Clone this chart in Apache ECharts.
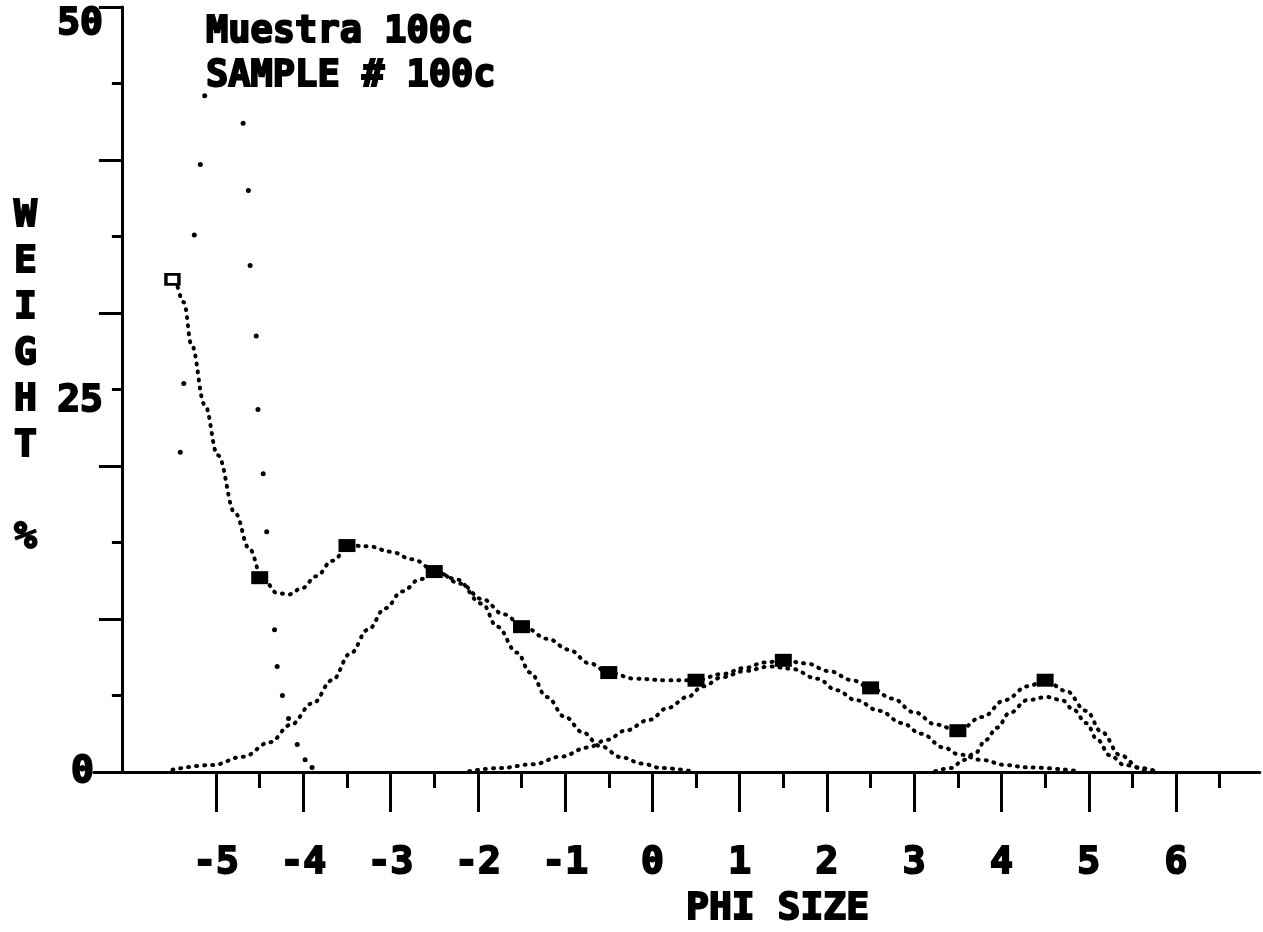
<!DOCTYPE html>
<html><head><meta charset="utf-8">
<script src="https://cdn.jsdelivr.net/npm/echarts@6/dist/echarts.min.js"></script>
<style>html,body{margin:0;padding:0;background:#fff}#c{width:1263px;height:932px}</style>
</head><body><div id="c"></div>
<script>
// ---- tick values ----
const xMajorTicks = [-5,-4,-3,-2,-1,0,1,2,3,4,5,6];
const xMinorTicks = [-4.5,-3.5,-2.5,-1.5,-0.5,0.5,1.5,2.5,3.5,4.5,5.5,6.5];
const yLabelValues = [0,25,50];

// ---- measured sample points (squares) ----
const samplePhi    = [-5.5,-4.5,-3.5,-2.5,-1.5,-0.5,0.5,1.5,2.5,3.5,4.5];
const sampleWeight = [32.2,12.7,14.8,13.1,9.5,6.5,6.0,7.3,5.5,2.7,6.0];

// ---- total fitted curve ----
const totalPhi    = [-5.46,-5.37,-5.28,-5.13,-4.98,-4.78,-4.62,-4.47,-4.3,-4.17,-4.02,-3.85,-3.67,-3.47,-3.25,-3.0,-2.75,-2.47,-2.2,-1.95,-1.7,-1.48,-1.2,-0.96,-0.72,-0.5,-0.2,0.15,0.5,0.8,1.06,1.28,1.5,1.76,2.02,2.29,2.5,2.75,3.0,3.25,3.5,3.78,4.04,4.3,4.5,4.74,4.97,5.15,5.36,5.59,5.8];
const totalWeight = [32.2,30.7,27.9,24.0,20.7,16.9,14.6,12.7,11.7,11.6,12.0,12.8,13.8,14.8,14.75,14.4,13.9,13.1,12.3,11.3,10.3,9.5,8.7,8.0,7.1,6.5,6.1,6.0,6.0,6.4,6.8,7.15,7.3,7.1,6.6,6.0,5.5,4.8,3.9,3.1,2.7,3.6,4.7,5.6,6.0,5.3,4.0,2.6,1.1,0.26,0.0];

// ---- component 1 (narrow, plotted as sparse dots) ----
const comp1Phi    = [-5.41,-5.37,-5.25,-5.18,-5.13,-4.69,-4.63,-4.61,-4.54,-4.52,-4.46,-4.42,-4.33,-4.30,-4.24,-4.17,-4.07,-3.98,-3.90];
const comp1Weight = [20.9,25.4,35.1,39.7,44.2,42.4,38.0,33.1,28.5,23.7,19.5,15.7,9.3,6.9,5.0,3.5,1.8,0.8,0.3];

// ---- component 2 ----
const comp2Phi    = [-5.5,-5.04,-4.69,-4.38,-4.15,-3.89,-3.67,-3.46,-3.26,-3.06,-2.87,-2.66,-2.47,-2.25,-1.95,-1.78,-1.55,-1.4,-1.21,-1.0,-0.8,-0.6,-0.35,-0.12,0.1,0.43];
const comp2Weight = [0.15,0.46,1.0,1.95,3.07,4.5,6.0,7.75,9.3,10.7,11.8,12.6,13.05,12.6,11.0,9.5,7.8,6.5,4.9,3.6,2.6,1.7,0.95,0.55,0.26,0.07];

// ---- component 3 ----
const comp3Phi    = [-2.1,-1.75,-1.37,-1.05,-0.74,-0.52,-0.31,-0.04,0.18,0.4,0.58,0.8,1.06,1.35,1.59,1.89,2.11,2.33,2.6,2.86,3.08,3.34,3.51,3.78,4.04,4.3,4.9];
const comp3Weight = [0.05,0.26,0.5,1.0,1.6,2.1,2.7,3.4,4.2,4.9,5.6,6.2,6.6,6.9,6.75,6.1,5.35,4.7,4.0,3.2,2.5,1.6,1.15,0.78,0.46,0.3,0.05];

// ---- component 4 ----
const comp4Phi    = [3.24,3.43,3.56,3.7,3.82,3.95,4.09,4.3,4.52,4.69,4.83,4.97,5.1,5.24,5.41,5.64];
const comp4Weight = [0.05,0.26,0.78,1.24,2.1,2.9,3.85,4.7,4.9,4.7,4.05,3.2,2.1,1.1,0.46,0.07];

const zip = (a,b) => a.map((v,i) => [v,b[i]]);
const FONT = '"DejaVu Sans Mono", monospace';
const INK = '#000';
const heavy = {fontFamily: FONT, fontSize: 38, fontWeight: 'bold', color: INK, textBorderColor: INK, textBorderWidth: 2};

const dotted = {color: INK, width: 4, type: [1, 7], cap: 'round'};
const curve = (p,w) => ({type:'line', data: zip(p,w), smooth: 0.4, smoothMonotone: 'x', symbol:'none', lineStyle: dotted, silent:true, z:2});

const chart = echarts.init(document.getElementById('c'), null, {renderer:'canvas'});
chart.setOption({
  animation: false,
  backgroundColor: '#fff',
  grid: {left: 93.9, right: 3.2, top: 7, bottom: 160, containLabel: false},
  title: [
    {text: 'Muestra 100c\nSAMPLE # 100c', left: 206, top: 10, padding: 0,
     textStyle: Object.assign({}, heavy, {fontSize: 37, lineHeight: 44})},
    {text: 'W\nE\nI\nG\nH\nT\n\n%', left: 14, top: 193, padding: 0,
     textStyle: Object.assign({}, heavy, {lineHeight: 46})},
    {text: 'PHI SIZE', left: 686, top: 886, padding: 0,
     textStyle: Object.assign({}, heavy, {lineHeight: 46})}
  ],
  xAxis: [
    {type: 'value', min: -6.4, max: 6.96, position: 'bottom',
     axisLine: {show: true, onZero: false, lineStyle: {color: INK, width: 3}},
     axisTick: {show: true, customValues: xMajorTicks, length: 40, lineStyle: {color: INK, width: 3}},
     axisLabel: Object.assign({show: true, customValues: xMajorTicks, margin: 72}, heavy),
     splitLine: {show: false}},
    {type: 'value', min: -6.4, max: 6.96, position: 'bottom',
     axisLine: {show: false},
     axisTick: {show: true, customValues: xMinorTicks, length: 16, lineStyle: {color: INK, width: 3}},
     axisLabel: {show: false},
     splitLine: {show: false}}
  ],
  yAxis: [
    {type: 'value', min: 0, max: 50, interval: 10, position: 'left', offset: -28,
     axisLine: {show: true, onZero: false, lineStyle: {color: INK, width: 3}},
     axisTick: {show: true, length: 23, lineStyle: {color: INK, width: 3}},
     minorTick: {show: true, splitNumber: 2, length: 10, lineStyle: {color: INK, width: 3}},
     axisLabel: {show: false},
     splitLine: {show: false}, minorSplitLine: {show: false}},
    {type: 'value', min: 0, max: 50, interval: 25, position: 'left', offset: -28,
     axisLine: {show: false}, axisTick: {show: false}, splitLine: {show: false},
     axisLabel: Object.assign({show: true, margin: 19,
       formatter: v => yLabelValues.indexOf(v) < 0 ? '' : (v === 0 ? '{z|' + v + '}' : (v === 50 ? '{t|' + v + '}' : '{u|' + v + '}')),
       rich: {
         z: Object.assign({}, heavy, {padding: [0, 9, 0, 0]}),
         u: Object.assign({}, heavy, {padding: [24, 0, 0, 0]}),
         t: Object.assign({}, heavy, {padding: [34, 0, 0, 0]})
       }}, heavy)}
  ],
  series: [
    curve(totalPhi, totalWeight),
    curve(comp2Phi, comp2Weight),
    curve(comp3Phi, comp3Weight),
    curve(comp4Phi, comp4Weight),
    {type: 'scatter', data: zip(comp1Phi, comp1Weight), symbol: 'circle', symbolSize: 5,
     itemStyle: {color: INK, opacity: 1}, silent: true, z: 3},
    {type: 'scatter', symbol: 'rect', symbolSize: [17, 13], silent: true, z: 4,
     data: samplePhi.map((p,i) => i === 0
       ? {value: [p, sampleWeight[i]], symbolSize: [13, 10], itemStyle: {color: '#fff', borderColor: INK, borderWidth: 3, opacity: 1}}
       : {value: [p, sampleWeight[i]]}),
     itemStyle: {color: INK, opacity: 1}}
  ]
});
</script>
</body></html>
